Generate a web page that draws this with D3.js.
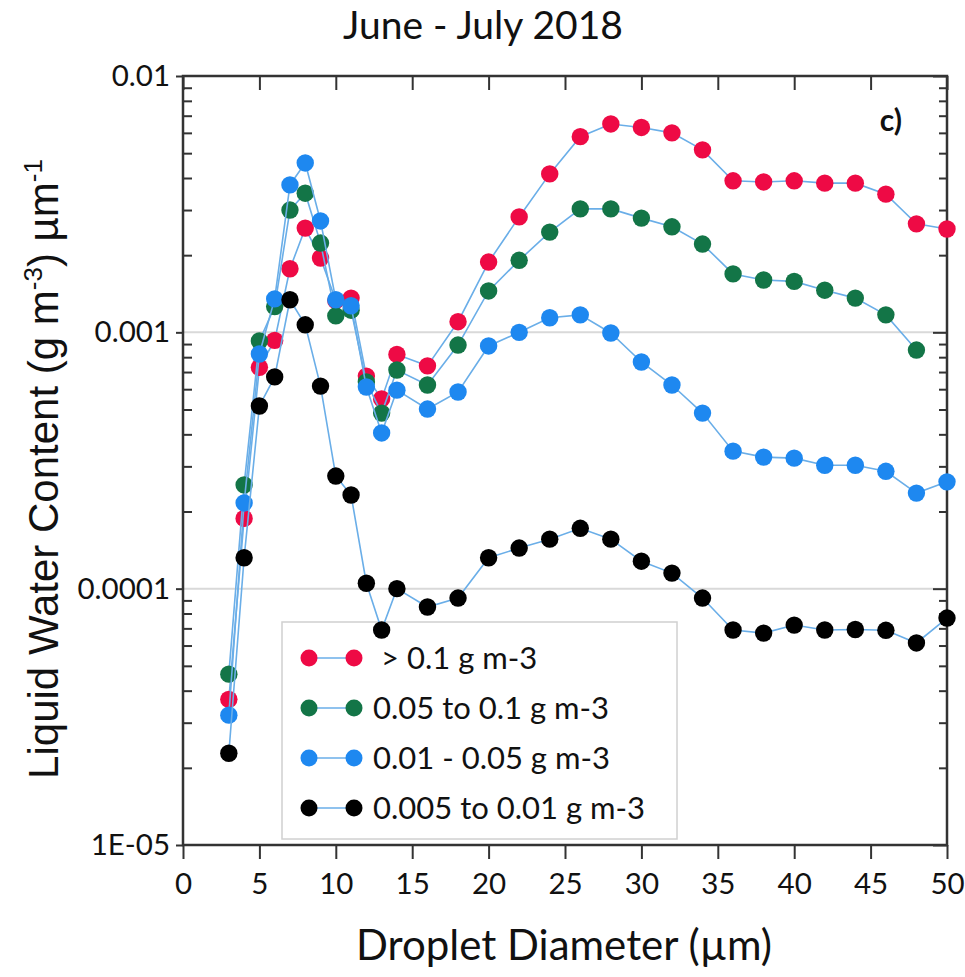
<!DOCTYPE html>
<html>
<head>
<meta charset="utf-8">
<script src="https://cdn.jsdelivr.net/npm/d3@7"></script>
<style>
  body { margin: 0; background: #fff; }
  text { font-family: Lato, "Open Sans", sans-serif; fill: #111; }
</style>
</head>
<body>
<div id="chart"></div>
<script>
// droplet diameters (µm)
var diameters = [3, 4, 5, 6, 7, 8, 9, 10, 11, 12, 13, 14, 16, 18, 20, 22, 24, 26, 28, 30, 32, 34, 36, 38, 40, 42, 44, 46, 48, 50];

// LWC per size bin, one array per LWC class
var lwcHigh = [3.7e-5, 1.88e-4, 7.3e-4, 9.3e-4, 1.77e-3, 2.55e-3, 1.95e-3, 1.33e-3, 1.36e-3, 6.75e-4, 5.5e-4, 8.2e-4, 7.4e-4, 1.1e-3, 1.88e-3, 2.82e-3, 4.15e-3, 5.8e-3, 6.5e-3, 6.3e-3, 6.0e-3, 5.15e-3, 3.9e-3, 3.86e-3, 3.9e-3, 3.82e-3, 3.82e-3, 3.46e-3, 2.65e-3, 2.53e-3];
var lwcMid = [4.64e-5, 2.54e-4, 9.25e-4, 1.26e-3, 3.0e-3, 3.49e-3, 2.23e-3, 1.16e-3, 1.22e-3, 6.4e-4, 4.84e-4, 7.13e-4, 6.23e-4, 8.92e-4, 1.45e-3, 1.91e-3, 2.46e-3, 3.03e-3, 3.03e-3, 2.79e-3, 2.58e-3, 2.21e-3, 1.69e-3, 1.6e-3, 1.58e-3, 1.46e-3, 1.36e-3, 1.17e-3, 8.53e-4, null];
var lwcLow = [3.21e-5, 2.16e-4, 8.23e-4, 1.35e-3, 3.76e-3, 4.58e-3, 2.72e-3, 1.34e-3, 1.27e-3, 6.12e-4, 4.05e-4, 5.95e-4, 5.02e-4, 5.85e-4, 8.85e-4, 1.0e-3, 1.14e-3, 1.17e-3, 9.94e-4, 7.66e-4, 6.23e-4, 4.84e-4, 3.44e-4, 3.26e-4, 3.23e-4, 3.03e-4, 3.03e-4, 2.87e-4, 2.36e-4, 2.61e-4];
var lwcVeryLow = [2.28e-5, 1.32e-4, 5.16e-4, 6.7e-4, 1.34e-3, 1.07e-3, 6.17e-4, 2.75e-4, 2.32e-4, 1.05e-4, 6.9e-5, 1.0e-4, 8.48e-5, 9.19e-5, 1.32e-4, 1.44e-4, 1.56e-4, 1.72e-4, 1.56e-4, 1.28e-4, 1.15e-4, 9.19e-5, 6.9e-5, 6.71e-5, 7.21e-5, 6.9e-5, 6.93e-5, 6.88e-5, 6.14e-5, 7.68e-5];

var seriesNames = ["> 0.1 g m-3", "0.05 to 0.1 g m-3", "0.01 - 0.05 g m-3", "0.005 to 0.01 g m-3"];
var seriesColors = ["#ee0a45", "#137547", "#1e88f0", "#000000"];
var seriesValues = [lwcHigh, lwcMid, lwcLow, lwcVeryLow];

var xTicks = [0, 5, 10, 15, 20, 25, 30, 35, 40, 45, 50];
var yTicks = [1e-5, 1e-4, 1e-3, 1e-2];
var yTickLabels = ["1E-05", "0.0001", "0.001", "0.01"];

// set the dimensions and margins of the graph
var margin = { top: 76, right: 18, bottom: 132, left: 183 },
    width = 965 - margin.left - margin.right,
    height = 977 - margin.top - margin.bottom;

var svg = d3.select("#chart")
    .append("svg")
    .attr("width", 965)
    .attr("height", 977);

var g = svg.append("g")
    .attr("transform", "translate(" + margin.left + "," + margin.top + ")");

var x = d3.scaleLinear().domain([0, 50]).range([0, width]);
var y = d3.scaleLog().domain([1e-5, 1e-2]).range([height, 0]);

// gridlines at 0.001 and 0.0001
g.selectAll(".grid")
    .data([1e-4, 1e-3])
    .enter()
    .append("line")
    .attr("x1", 0)
    .attr("x2", width)
    .attr("y1", function(d) { return y(d); })
    .attr("y2", function(d) { return y(d); })
    .attr("stroke", "#d9d9d9")
    .attr("stroke-width", 2);

// minor ticks (2..9 per decade)
var minor = [];
[1e-5, 1e-4, 1e-3].forEach(function(p) {
    for (var k = 2; k <= 9; k++) minor.push(p * k);
});

function styleAxis(sel) {
    sel.select(".domain").remove();
    sel.selectAll("line").attr("stroke", "#333").attr("stroke-width", 2);
}

// left axis: minor ticks inside, labels outside
g.append("g")
    .call(d3.axisRight(y).tickValues(minor).tickSize(9).tickFormat(""))
    .call(styleAxis);
g.append("g")
    .call(d3.axisLeft(y).tickValues(yTicks).tickSize(7).tickPadding(6)
        .tickFormat(function(d, i) { return yTickLabels[i]; }))
    .call(styleAxis)
    .selectAll("text")
    .style("font-size", "29.5px");

// right axis: ticks inside
g.append("g")
    .attr("transform", "translate(" + width + ",0)")
    .call(d3.axisLeft(y).tickValues(minor).tickSize(8).tickFormat(""))
    .call(styleAxis);
g.append("g")
    .attr("transform", "translate(" + width + ",0)")
    .call(d3.axisLeft(y).tickValues(yTicks).tickSize(14).tickFormat(""))
    .call(styleAxis);

// bottom axis
g.append("g")
    .attr("transform", "translate(0," + height + ")")
    .call(d3.axisBottom(x).tickValues(xTicks).tickSize(14).tickPadding(14))
    .call(styleAxis)
    .selectAll("text")
    .style("font-size", "29.5px");

// top axis: ticks inside
g.append("g")
    .call(d3.axisBottom(x).tickValues(xTicks).tickSize(14).tickFormat(""))
    .call(styleAxis);

// frame
g.append("rect")
    .attr("width", width)
    .attr("height", height)
    .attr("fill", "none")
    .attr("stroke", "#333")
    .attr("stroke-width", 2.5);

// legend (drawn under the series)
var legend = g.append("g")
    .attr("transform", "translate(" + (282 - margin.left) + "," + (622 - margin.top) + ")");
legend.append("rect")
    .attr("width", 395)
    .attr("height", 217)
    .attr("fill", "#fff")
    .attr("stroke", "#d0d0d0")
    .attr("stroke-width", 1.5);
var items = legend.selectAll(".item")
    .data(seriesNames)
    .enter()
    .append("g")
    .attr("transform", function(d, i) { return "translate(0," + (36 + i * 50) + ")"; });
items.append("line")
    .attr("x1", 27).attr("x2", 72)
    .attr("stroke", "#6aaee8")
    .attr("stroke-width", 1.6);
items.append("circle").attr("cx", 27).attr("r", 8.5)
    .attr("fill", function(d, i) { return seriesColors[i]; });
items.append("circle").attr("cx", 72).attr("r", 8.5)
    .attr("fill", function(d, i) { return seriesColors[i]; });
items.append("text")
    .attr("x", function(d, i) { return i == 0 ? 99 : 91; })
    .attr("dy", "0.36em")
    .style("font-size", "31px")
    .text(function(d) { return d; });

// series
var line = d3.line()
    .defined(function(d) { return d.v != null; })
    .x(function(d) { return x(d.d); })
    .y(function(d) { return y(d.v); });

seriesValues.forEach(function(vals, s) {
    var pts = diameters.map(function(d, i) { return { d: d, v: vals[i] }; });
    g.append("path")
        .datum(pts)
        .attr("d", line)
        .attr("fill", "none")
        .attr("stroke", "#6aaee8")
        .attr("stroke-width", 1.6);
    g.selectAll(".pt" + s)
        .data(pts.filter(function(p) { return p.v != null; }))
        .enter()
        .append("circle")
        .attr("class", "pt" + s)
        .attr("cx", function(p) { return x(p.d); })
        .attr("cy", function(p) { return y(p.v); })
        .attr("r", 8.7)
        .attr("fill", seriesColors[s]);
});

// panel label
g.append("text")
    .attr("x", x(45.6))
    .attr("y", y(0.0061))
    .style("font-size", "30px")
    .style("font-weight", "bold")
    .text("c)");

// title
svg.append("text")
    .attr("x", 483)
    .attr("y", 39)
    .attr("text-anchor", "middle")
    .style("font-size", "39px")
    .text("June - July 2018");

// axis titles
svg.append("text")
    .attr("x", margin.left + width / 2 - 1)
    .attr("y", 960)
    .attr("text-anchor", "middle")
    .style("font-size", "42px")
    .text("Droplet Diameter (µm)");

var yt = svg.append("text")
    .attr("transform", "translate(58," + 469 + ") rotate(-90)")
    .attr("text-anchor", "middle")
    .style("font-family", "'Liberation Sans', Arial, sans-serif")
    .style("font-size", "42px");
yt.append("tspan").text("Liquid Water Content (g m");
yt.append("tspan").attr("dy", -16).style("font-size", "26px").text("-3");
yt.append("tspan").attr("dy", 16).text(") µm");
yt.append("tspan").attr("dy", -16).style("font-size", "26px").text("-1");
</script>
</body>
</html>
